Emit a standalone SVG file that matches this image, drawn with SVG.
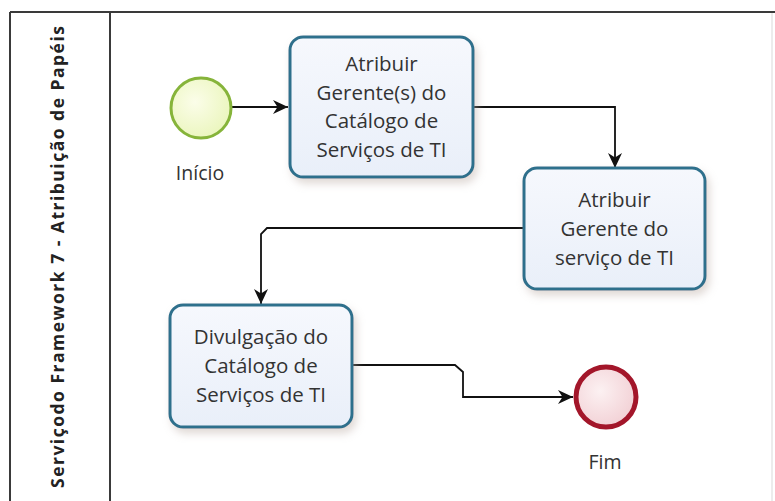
<svg xmlns="http://www.w3.org/2000/svg" width="775" height="501" viewBox="0 0 775 501">
  <style>
    .task { fill: url(#taskFill); stroke: #2f6f8c; stroke-width: 3; filter: url(#shadow); }
    .lbl { font-family: "Open Sans", "Noto Sans", "DejaVu Sans", sans-serif; font-size: 20.5px; fill: #333; text-anchor: middle; }
    .conn { fill: none; stroke: #111; stroke-width: 1.8; }
    .hdr { font-family: "Open Sans", "Noto Sans", "DejaVu Sans", sans-serif; font-size: 17.5px; font-weight: bold; fill: #222; text-anchor: middle; }
  </style>
  <defs>
    <linearGradient id="taskFill" x1="0" y1="0" x2="0" y2="1">
      <stop offset="0" stop-color="#f6f8fd"/>
      <stop offset="1" stop-color="#e9eff9"/>
    </linearGradient>
    <radialGradient id="startFill" cx="0.4" cy="0.4" r="0.7">
      <stop offset="0" stop-color="#fbfde9"/>
      <stop offset="1" stop-color="#e9f5b9"/>
    </radialGradient>
    <radialGradient id="endFill" cx="0.4" cy="0.4" r="0.7">
      <stop offset="0" stop-color="#fcf1f2"/>
      <stop offset="1" stop-color="#f1cdd2"/>
    </radialGradient>
    <filter id="shadow" x="-10%" y="-10%" width="130%" height="130%">
      <feDropShadow dx="3" dy="5" stdDeviation="4" flood-color="#b9a9a0" flood-opacity="0.45"/>
    </filter>
    <marker id="arrow" markerUnits="userSpaceOnUse" markerWidth="16" markerHeight="16" refX="15" refY="8" orient="auto">
      <path d="M0,1 L15,8 L0,15 L4.5,8 Z" fill="#111"/>
    </marker>
  </defs>

  <!-- pool frame -->
  <g id="pool">
    <rect x="10" y="12" width="765" height="489" fill="#ffffff"/>
    <path d="M10,12 H775 M10,12 V501 M110,12 V501" fill="none" stroke="#3a3a3a" stroke-width="2"/>
    <path d="M772,13 V501" fill="none" stroke="#e6e6e6" stroke-width="1.5"/>
    <text class="hdr" transform="translate(64,257) rotate(-90)" textLength="462" lengthAdjust="spacing">Serviçodo Framework 7 - Atribuição de Papéis</text>
  </g>

  <!-- connectors -->
  <g id="connectors">
    <path class="conn" d="M232,107 H288" marker-end="url(#arrow)"/>
    <path class="conn" d="M473,107 H615 V168" marker-end="url(#arrow)"/>
    <path class="conn" d="M524,228 H267 L261,234 V304" marker-end="url(#arrow)"/>
    <path class="conn" d="M352,365 H455 L463,372 V397 H573" marker-end="url(#arrow)"/>
  </g>

  <g id="start">
    <circle cx="201" cy="108" r="30" fill="url(#startFill)" stroke="#86b43a" stroke-width="3"/>
    <text class="lbl" x="200" y="180" style="font-size:19.5px">Início</text>
  </g>

  <g id="task1">
    <rect class="task" x="290" y="37" width="183" height="140" rx="13"/>
    <text class="lbl" x="381.5" y="71">Atribuir</text>
    <text class="lbl" x="381.5" y="99.5">Gerente(s) do</text>
    <text class="lbl" x="381.5" y="128">Catálogo de</text>
    <text class="lbl" x="381.5" y="156.5">Serviços de TI</text>
  </g>

  <g id="task2">
    <rect class="task" x="524" y="168" width="181" height="121" rx="13"/>
    <text class="lbl" x="614.5" y="207">Atribuir</text>
    <text class="lbl" x="614.5" y="236">Gerente do</text>
    <text class="lbl" x="614.5" y="265">serviço de TI</text>
  </g>

  <g id="task3">
    <rect class="task" x="170" y="305" width="182" height="122" rx="13"/>
    <text class="lbl" x="261" y="344">Divulgação do</text>
    <text class="lbl" x="261" y="373">Catálogo de</text>
    <text class="lbl" x="261" y="402">Serviços de TI</text>
  </g>

  <g id="end">
    <circle cx="606" cy="397" r="30" fill="url(#endFill)" stroke="#a3162a" stroke-width="5"/>
    <text class="lbl" x="605" y="469" style="font-size:19.5px">Fim</text>
  </g>
</svg>
